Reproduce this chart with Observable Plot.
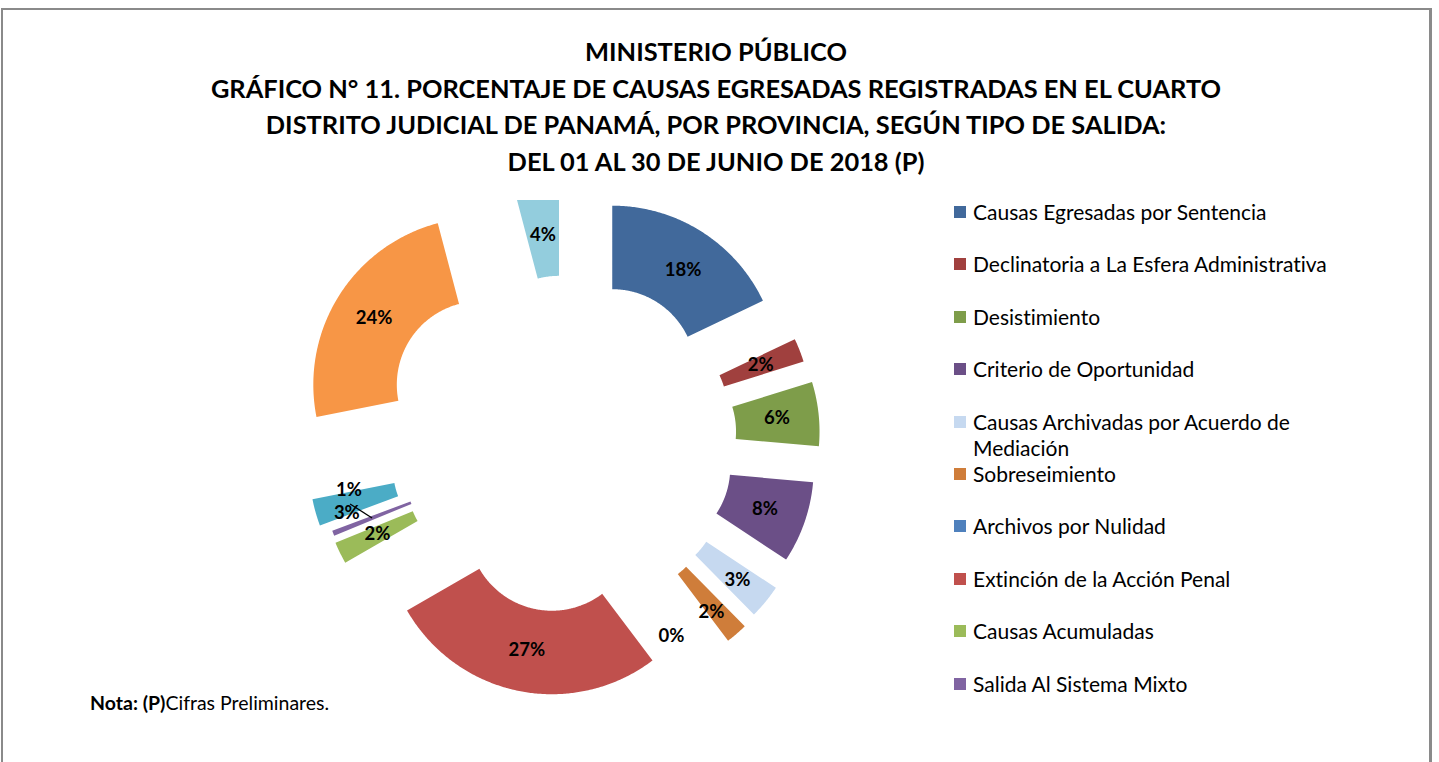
<!DOCTYPE html>
<html>
<head>
<meta charset="utf-8">
<script src="https://cdn.jsdelivr.net/npm/d3@7"></script>
<script src="https://cdn.jsdelivr.net/npm/@observablehq/plot@0.6"></script>
<style>
  html, body { margin: 0; padding: 0; overflow: hidden; background: #fff; width: 1439px; height: 762px; font-variant-ligatures: none; }
  #frame { position: absolute; left: 1px; top: 8px; width: 1431px; height: 800px; border-top: 2px solid #8a8a8a; border-left: 2px solid #8a8a8a; border-right: 3px solid #8a8a8a; box-sizing: border-box; }
  #title { position: absolute; left: 0; width: 1432px; top: 33px; text-align: center; font-family: Lato, "Open Sans", sans-serif; font-weight: 700; font-size: 25.4px; line-height: 36.7px; color: #000; }
  #chart { position: absolute; left: 199px; top: 200px; }
  .leg { position: absolute; left: 954px; font-family: Lato, "Open Sans", sans-serif; font-size: 21px; line-height: 26px; color: #000; }
  .leg .sw { position: absolute; left: 0; top: 7px; width: 12px; height: 12px; }
  .leg .tx { position: absolute; left: 19px; top: 0; width: 385px; }
  #nota { position: absolute; left: 90px; top: 691px; font-family: Lato, "Open Sans", sans-serif; font-size: 19.5px; color: #000; }
</style>
</head>
<body>
<div id="frame"></div>
<div id="title">MINISTERIO PÚBLICO<br>GRÁFICO N° 11. PORCENTAJE DE CAUSAS EGRESADAS REGISTRADAS EN EL CUARTO<br>DISTRITO JUDICIAL DE PANAMÁ, POR PROVINCIA, SEGÚN TIPO DE SALIDA:<br>DEL 01 AL 30 DE JUNIO DE 2018 (P)</div>
<div id="chart"></div>
<div id="legend"></div>
<div id="nota"><b>Nota: (P)</b>Cifras Preliminares.</div>
<script>
// ---------------- DATA ----------------
const categories = [
  "Causas Egresadas por Sentencia",
  "Declinatoria a La Esfera Administrativa",
  "Desistimiento",
  "Criterio de Oportunidad",
  "Causas Archivadas por Acuerdo de Mediación",
  "Sobreseimiento",
  "Archivos por Nulidad",
  "Extinción de la Acción Penal",
  "Causas Acumuladas",
  "Salida Al Sistema Mixto",
  "Categoría 11",
  "Categoría 12",
  "Categoría 13"
];
const values = [17.9, 2.3, 6.2, 7.9, 3.3, 2.1, 0, 27.0, 2.1, 0.5, 2.6, 24.0, 4.1];
const colors = ["#41699B", "#A0403E", "#7E9D4A", "#6B4F87", "#C6D9F0", "#CF7D3A", "#4F81BD", "#C0504D", "#9BBB59", "#8064A2", "#4BACC6", "#F79646", "#93CDDD"];
const legendCount = 10; // entries visible in the legend

// ---------------- LAYOUT / STYLE ----------------
const R = 167;               // outer radius in px
const hole = 0.5;            // inner radius as fraction of outer
const W = 740, H = 500;      // svg size
const cx = 370, cy = 240;    // donut centre inside svg (px)
const explode = [0.48, 0.48, 0.50, 0.49, 0.52, 0.53, 0.53, 0.53, 0.53, 0.52, 0.58, 0.63, 0.49];
const labelNudge = {0: [4, 3], 4: [4, 5], 5: [2, 10], 6: [-27, 25], 9: [-23, -28], 10: [-9, 12]}; // px offsets for moved labels
const leaderFrom = {9: [1, 14]}; // px offset from label to start of leader line

// ---------------- GEOMETRY ----------------
const arcs = d3.pie().sort(null).value(d => d)(values);
const total = d3.sum(values);
const slicePts = [];
const labels = [];
const leaders = [];
arcs.forEach((a, i) => {
  const mid = (a.startAngle + a.endAngle) / 2;
  const ox = explode[i] * Math.sin(mid), oy = explode[i] * Math.cos(mid);
  const span = a.endAngle - a.startAngle;
  if (span > 0) {
    const n = Math.max(2, Math.ceil(span / (Math.PI / 360)));
    for (let k = 0; k <= n; k++) {
      const t = a.startAngle + span * k / n;
      slicePts.push({cat: categories[i], x: ox + Math.sin(t), y: oy + Math.cos(t)});
    }
    for (let k = n; k >= 0; k--) {
      const t = a.startAngle + span * k / n;
      slicePts.push({cat: categories[i], x: ox + hole * Math.sin(t), y: oy + hole * Math.cos(t)});
    }
  }
  const rm = (1 + hole) / 2;
  const ax = ox + rm * Math.sin(mid), ay = oy + rm * Math.cos(mid);
  const nd = labelNudge[i] || [0, 0];
  const lx = ax + nd[0] / R, ly = ay - nd[1] / R;
  labels.push({x: lx, y: ly, text: Math.round(values[i] / total * 100) + "%"});
  if (leaderFrom[i]) {
    leaders.push({x1: lx + leaderFrom[i][0] / R, y1: ly - leaderFrom[i][1] / R, x2: ax, y2: ay});
  }
});

const plot = Plot.plot({
  width: W,
  height: H,
  margin: 0,
  x: {domain: [-cx / R, (W - cx) / R], axis: null},
  y: {domain: [-(H - cy) / R, cy / R], axis: null},
  color: {domain: categories, range: colors},
  style: {fontFamily: "Lato, 'Open Sans', sans-serif", background: "transparent", overflow: "hidden"},
  marks: [
    Plot.line(slicePts, {x: "x", y: "y", z: "cat", fill: "cat", stroke: "none", curve: "linear-closed", clip: true}),
    Plot.link(leaders, {x1: "x1", y1: "y1", x2: "x2", y2: "y2", stroke: "#000", strokeWidth: 1.3}),
    Plot.text(labels, {x: "x", y: "y", text: "text", fontSize: 18.5, fontWeight: "bold", fill: "#000"})
  ]
});
document.getElementById("chart").appendChild(plot);

// ---------------- LEGEND ----------------
const legend = document.getElementById("legend");
for (let i = 0; i < legendCount; i++) {
  const row = document.createElement("div");
  row.className = "leg";
  row.style.top = (212 + i * 52.4 - 13) + "px";
  const sw = document.createElement("div");
  sw.className = "sw";
  sw.style.background = colors[i];
  const tx = document.createElement("div");
  tx.className = "tx";
  tx.textContent = categories[i];
  row.appendChild(sw);
  row.appendChild(tx);
  legend.appendChild(row);
}
</script>
</body>
</html>
